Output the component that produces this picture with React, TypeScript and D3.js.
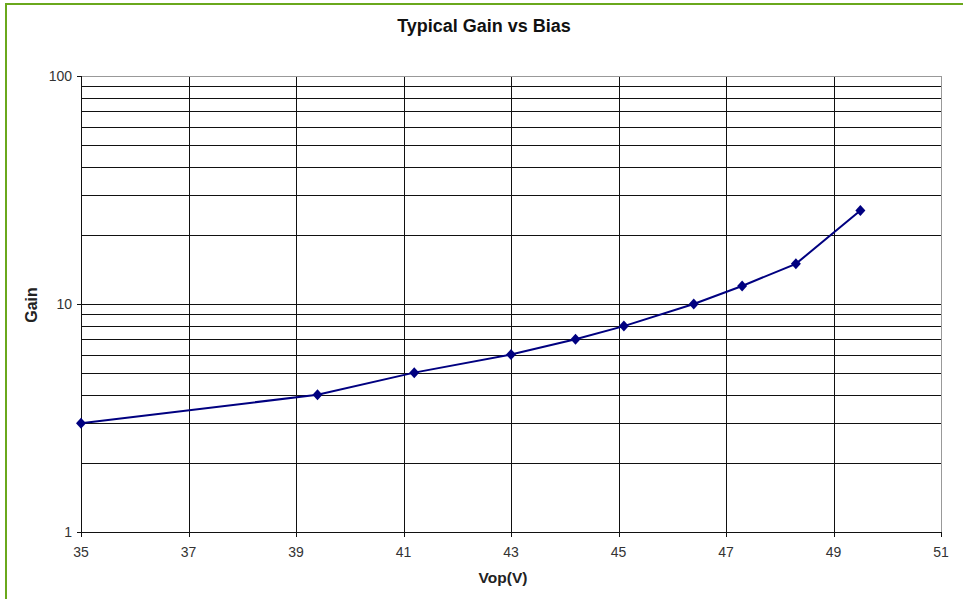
import React from "react";
import * as d3 from "d3";

const vop = [35, 39.4, 41.2, 43, 44.2, 45.1, 46.4, 47.3, 48.3, 49.5];
const gain = [3, 4, 5, 6, 7, 8, 10, 12, 15, 25.7];
const xTicks = [35, 37, 39, 41, 43, 45, 47, 49, 51];
const yLabels = [1, 10, 100];
const yGrid = [2, 3, 4, 5, 6, 7, 8, 9, 10, 20, 30, 40, 50, 60, 70, 80, 90];

const W = 963, H = 599;
const L = 81, R = 941, T = 76, B = 532;

export default function App() {
  const x = d3.scaleLinear().domain([35, 51]).range([L, R]);
  const y = d3.scaleLog().domain([1, 100]).range([B, T]);
  const line = d3.line<number>().x((_, i) => x(vop[i])).y((d) => y(d));
  const font = "Arial, 'Liberation Sans', sans-serif";
  return (
    <svg width={W} height={H} style={{ position: "absolute", left: 0, top: 0, background: "#fff" }} fontFamily={font}>
      <rect x={0} y={0} width={W} height={H} fill="#fff" />
      <line x1={6} y1={3} x2={6} y2={H} stroke="#6aa81c" strokeWidth={2} />
      <line x1={5} y1={4} x2={W} y2={4} stroke="#6aa81c" strokeWidth={2} />
      <text x={484} y={32} textAnchor="middle" fontSize={18} fontWeight="bold" fill="#111">Typical Gain vs Bias</text>
      {/* grid */}
      {yGrid.map((g) => (
        <line key={"h" + g} x1={L} x2={R} y1={Math.round(y(g)) + 0.5} y2={Math.round(y(g)) + 0.5} stroke="#111" strokeWidth={1} />
      ))}
      {xTicks.slice(1, -1).map((t) => (
        <line key={"v" + t} x1={Math.round(x(t)) + 0.5} x2={Math.round(x(t)) + 0.5} y1={T} y2={B} stroke="#111" strokeWidth={1} />
      ))}
      {/* border */}
      <line x1={L} x2={R} y1={T + 0.5} y2={T + 0.5} stroke="#999" />
      <line x1={R + 0.5} x2={R + 0.5} y1={T} y2={B} stroke="#999" />
      <line x1={L + 0.5} x2={L + 0.5} y1={T} y2={B + 5} stroke="#111" />
      <line x1={L - 4} x2={R + 1} y1={B + 0.5} y2={B + 0.5} stroke="#111" />
      {/* ticks */}
      {xTicks.map((t) => (
        <g key={"xt" + t}>
          <line x1={Math.round(x(t)) + 0.5} x2={Math.round(x(t)) + 0.5} y1={B} y2={B + 5} stroke="#111" />
          <text x={x(t)} y={557} textAnchor="middle" fontSize={14} fill="#333">{t}</text>
        </g>
      ))}
      {yLabels.map((t) => (
        <g key={"yt" + t}>
          <line x1={L - 4} x2={L} y1={Math.round(y(t)) + 0.5} y2={Math.round(y(t)) + 0.5} stroke="#111" />
          <text x={72} y={y(t) + 5} textAnchor="end" fontSize={14} fill="#333">{t}</text>
        </g>
      ))}
      <text transform={`translate(37,305) rotate(-90)`} textAnchor="middle" fontSize={16} fontWeight="bold" fill="#222">Gain</text>
      <text x={503} y={583} textAnchor="middle" fontSize={15.5} fontWeight="bold" fill="#222">Vop(V)</text>
      {/* series */}
      <path d={line(gain) || ""} fill="none" stroke="#000080" strokeWidth={2} />
      {gain.map((g, i) => {
        const cx = x(vop[i]), cy = y(g);
        return <path key={"m" + i} d={`M${cx},${cy - 5.5}L${cx + 5},${cy}L${cx},${cy + 5.5}L${cx - 5},${cy}Z`} fill="#000080" />;
      })}
    </svg>
  );
}
